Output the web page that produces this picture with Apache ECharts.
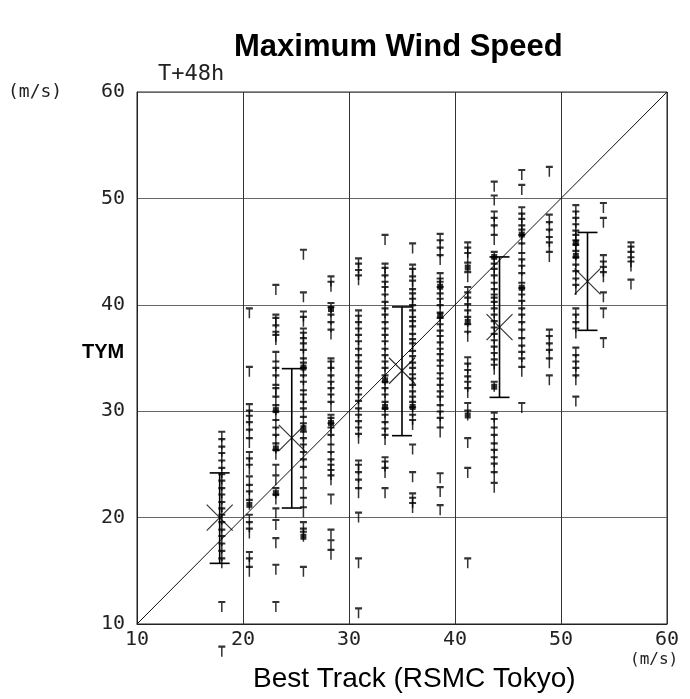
<!DOCTYPE html>
<html><head><meta charset="utf-8">
<script src="https://cdn.jsdelivr.net/npm/echarts@6/dist/echarts.min.js"></script>
<style>html,body{margin:0;padding:0;background:#fff}#c{width:690px;height:699px}</style>
</head><body><div id="c"></div>
<script>
// Best-track wind speed columns (m/s)
const xCols = [18.0, 20.6, 23.1, 25.7, 28.3, 30.9, 33.4, 36.0, 38.6, 41.2, 43.7, 46.3, 48.9, 51.4, 54.0, 56.6];
// TYM forecast values for each column (m/s)
const col18_0 = [27.6, 26.9, 26.2, 25.6, 24.9, 24.2, 23.6, 23.0, 22.3, 21.7, 21.0, 20.4, 19.8, 19.1, 18.4, 17.8, 17.1, 16.4, 15.7, 11.6, 7.4];
const col20_6 = [39.2, 33.7, 30.2, 29.6, 29.1, 28.5, 27.8, 27.0, 25.7, 25.1, 24.5, 23.4, 22.6, 22.0, 21.2, 19.8, 19.1, 18.5, 16.3, 15.7, 14.9];
const col23_1 = [41.4, 38.6, 38.3, 37.6, 37.0, 36.7, 35.1, 34.2, 33.6, 32.9, 32.0, 31.7, 30.9, 30.1, 29.5, 28.7, 28.0, 27.3, 26.5, 25.9, 24.5, 23.5, 22.3, 21.7, 20.4, 19.3, 17.6, 15.1, 11.6];
const col25_7 = [44.7, 40.7, 38.9, 38.4, 37.3, 36.9, 36.4, 35.9, 35.3, 34.5, 34.1, 33.6, 32.9, 32.3, 31.5, 31.1, 30.4, 29.8, 29.0, 28.4, 27.6, 27.0, 26.4, 25.7, 25.0, 24.3, 23.3, 22.3, 21.4, 20.5, 19.1, 18.5, 18.2, 14.9];
const col28_3 = [42.2, 41.7, 39.7, 39.3, 38.6, 37.9, 37.2, 34.5, 34.2, 33.6, 32.9, 32.3, 31.7, 31.1, 30.4, 29.2, 28.9, 28.4, 28.0, 27.3, 26.4, 25.7, 25.0, 24.5, 24.0, 23.5, 21.7, 18.4, 17.4, 16.5];
const col30_9 = [43.9, 43.4, 42.8, 42.3, 39.0, 38.5, 37.9, 37.3, 36.7, 36.1, 35.4, 34.8, 34.2, 33.6, 32.9, 32.3, 31.7, 31.1, 30.5, 29.8, 29.2, 28.6, 28.0, 27.4, 24.9, 24.5, 23.8, 23.1, 22.3, 20.0, 15.7, 11.0];
const col33_4 = [46.1, 43.4, 43.0, 42.3, 41.7, 41.2, 40.5, 39.8, 39.2, 38.6, 37.9, 37.3, 36.7, 36.1, 35.4, 34.8, 34.2, 33.6, 32.9, 32.3, 31.7, 31.1, 30.4, 29.8, 29.2, 28.5, 27.9, 27.3, 25.2, 24.8, 24.2, 22.3];
const col36_0 = [45.3, 43.3, 42.9, 42.2, 41.8, 41.0, 40.6, 40.1, 39.5, 39.0, 38.4, 38.0, 37.5, 36.8, 36.3, 35.9, 35.2, 34.7, 34.1, 33.6, 33.0, 32.6, 32.0, 31.4, 30.9, 30.4, 29.9, 29.2, 28.7, 26.4, 23.8, 21.8, 21.4, 20.9];
const col38_6 = [46.2, 45.6, 44.9, 44.2, 42.5, 42.0, 41.7, 41.2, 40.6, 40.1, 39.5, 38.8, 38.3, 37.7, 37.1, 36.6, 36.0, 35.4, 34.9, 34.3, 33.8, 33.1, 32.6, 32.0, 31.4, 30.9, 30.1, 29.5, 28.9, 28.0, 23.7, 22.4, 20.7];
const col41_2 = [45.4, 44.9, 44.4, 43.5, 42.6, 41.2, 40.7, 40.2, 39.6, 39.0, 38.4, 37.7, 37.0, 34.6, 34.0, 33.4, 32.8, 32.3, 31.7, 30.3, 29.6, 27.0, 24.2, 15.7];
const col43_7 = [51.1, 49.8, 48.3, 47.7, 47.0, 46.1, 44.5, 44.0, 43.4, 42.9, 42.3, 41.6, 41.0, 40.5, 40.2, 39.8, 39.2, 38.6, 38.0, 37.4, 36.8, 36.2, 35.6, 35.0, 34.4, 33.9, 32.3, 29.4, 28.8, 28.0, 27.3, 26.5, 25.9, 25.2, 24.6, 23.8, 22.8];
const col46_3 = [52.2, 50.8, 48.7, 48.1, 47.6, 47.0, 46.6, 46.1, 45.3, 44.4, 43.8, 43.2, 42.5, 41.6, 41.1, 40.5, 39.9, 39.2, 38.6, 37.9, 37.2, 36.4, 35.7, 35.1, 34.5, 33.7, 30.3];
const col48_9 = [52.5, 48.0, 47.3, 46.6, 45.9, 45.4, 44.5, 37.2, 36.6, 35.9, 35.3, 34.5, 32.9];
const col51_4 = [48.9, 48.3, 47.7, 47.1, 46.5, 46.1, 45.6, 45.2, 44.6, 44.0, 43.3, 42.7, 42.0, 41.4, 39.2, 38.6, 37.9, 37.3, 35.5, 34.8, 34.2, 33.6, 32.9, 30.9];
const col54_0 = [49.1, 47.7, 44.2, 43.6, 43.1, 42.6, 40.7, 39.2, 36.4];
const col56_6 = [45.4, 45.0, 44.5, 44.0, 43.6, 41.9];
const tymColumns = [col18_0, col20_6, col23_1, col25_7, col28_3, col30_9, col33_4, col36_0, col38_6, col41_2, col43_7, col46_3, col48_9, col51_4, col54_0, col56_6];

// filled-square points
const squareX = [20.6, 23.1, 23.1, 23.1, 25.7, 25.7, 25.7, 28.3, 28.3, 33.4, 33.4, 36.0, 38.6, 38.6, 41.2, 41.2, 41.2, 43.7, 43.7, 46.3, 46.3, 51.4, 51.4];
const squareY = [21.2, 30.1, 26.5, 22.3, 34.1, 28.4, 18.2, 28.9, 39.6, 32.9, 30.4, 30.4, 41.7, 39.0, 43.5, 38.4, 29.6, 44.5, 32.3, 46.6, 41.6, 45.8, 44.6];

// mean and +/- one standard deviation
const meanX = [17.8, 24.6, 35.0, 44.2, 52.5];
const meanY = [20.0, 27.5, 33.8, 37.9, 42.2];
const sdLow = [15.7, 20.9, 27.7, 31.3, 37.6];
const sdHigh = [24.2, 34.0, 39.8, 44.5, 46.8];

const diagonal = [[10, 10], [60, 60]];
const axisMin = 10, axisMax = 60, axisStep = 10;

const pts = [];
xCols.forEach((x, i) => tymColumns[i].forEach(v => pts.push([x, v])));
const squares = squareX.map((x, i) => [x, squareY[i]]);
const bars = meanX.map((x, i) => [x, sdLow[i], sdHigh[i]]);
const means = meanX.map((x, i) => [x, meanY[i]]);

const mono = 'DejaVu Sans Mono';
const chart = echarts.init(document.getElementById('c'), null, {renderer: 'canvas'});
const option = {
  animation: false,
  backgroundColor: '#fff',
  title: {
    text: 'Maximum Wind Speed', left: 229, top: 27,
    textStyle: {fontFamily: 'Liberation Sans', fontWeight: 'bold', fontSize: 31, color: '#000'}
  },
  grid: {left: 137, top: 92, width: 530, height: 532, show: true, borderColor: '#222', borderWidth: 1},
  xAxis: {
    type: 'value', min: axisMin, max: axisMax, interval: axisStep,
    axisLine: {lineStyle: {color: '#222'}}, axisTick: {show: false},
    splitLine: {lineStyle: {color: '#333', width: 1}},
    axisLabel: {fontFamily: mono, fontSize: 20, color: '#222', margin: 6}
  },
  yAxis: {
    type: 'value', min: axisMin, max: axisMax, interval: axisStep,
    axisLine: {show: true, lineStyle: {color: '#222'}}, axisTick: {show: false},
    splitLine: {lineStyle: {color: '#666', width: 1}},
    axisLabel: {fontFamily: mono, fontSize: 20, color: '#222', margin: 12}
  },
  graphic: [
    {type: 'text', left: 8, top: 83, style: {text: '(m/s)', font: '18px "DejaVu Sans Mono"', fill: '#222'}},
    {type: 'text', left: 158, top: 63, style: {text: 'T+48h', font: '22px "DejaVu Sans Mono"', fill: '#222'}},
    {type: 'text', left: 630, top: 652, style: {text: '(m/s)', font: '16px "DejaVu Sans Mono"', fill: '#222'}},
    {type: 'text', left: 82, top: 342, style: {text: 'TYM', font: 'bold 20px "Liberation Sans"', fill: '#000'}},
    {type: 'text', left: 253, top: 665, style: {text: 'Best Track (RSMC Tokyo)', font: '28px "Liberation Sans"', fill: '#000'}}
  ],
  series: [
    {
      type: 'line', data: diagonal, symbol: 'none', silent: true,
      lineStyle: {color: '#111', width: 1}, z: 1
    },
    {
      type: 'scatter', data: pts, clip: false,
      symbol: 'path://M0,0L8,0M4,0L4,10', symbolSize: [7, 10],
      itemStyle: {color: 'rgba(0,0,0,0)', borderColor: '#000', borderWidth: 1.8}, z: 3
    },
    {
      type: 'scatter', data: squares, symbol: 'rect', symbolSize: 6,
      itemStyle: {color: '#000'}, z: 4
    },
    {
      type: 'custom', data: bars, z: 5,
      renderItem: function (params, api) {
        const x = api.value(0);
        const lo = api.coord([x, api.value(1)]);
        const hi = api.coord([x, api.value(2)]);
        const hw = 10;
        const st = {stroke: '#000', lineWidth: 1.6};
        return {type: 'group', children: [
          {type: 'line', shape: {x1: hi[0], y1: hi[1], x2: lo[0], y2: lo[1]}, style: st},
          {type: 'line', shape: {x1: hi[0] - hw, y1: hi[1], x2: hi[0] + hw, y2: hi[1]}, style: st},
          {type: 'line', shape: {x1: lo[0] - hw, y1: lo[1], x2: lo[0] + hw, y2: lo[1]}, style: st}
        ]};
      }
    },
    {
      type: 'scatter', data: means, z: 6,
      symbol: 'path://M0,0L10,10M10,0L0,10', symbolSize: 26,
      itemStyle: {color: 'rgba(0,0,0,0)', borderColor: '#000', borderWidth: 1.2}
    }
  ]
};
chart.setOption(option);
</script>
</body></html>
